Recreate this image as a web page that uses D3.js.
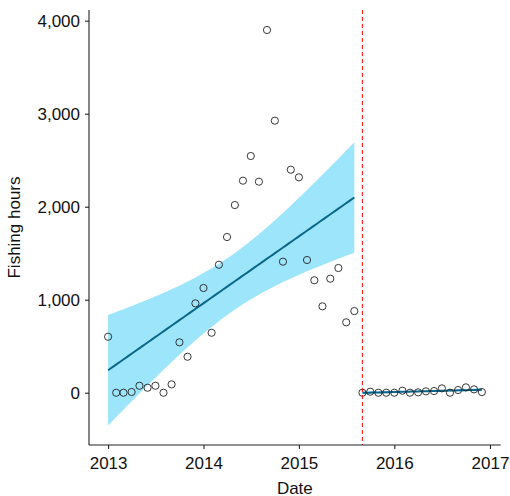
<!DOCTYPE html>
<html>
<head>
<meta charset="utf-8">
<script src="https://cdn.jsdelivr.net/npm/d3@7"></script>
<style>
  html, body { margin: 0; padding: 0; background: #fff; }
  svg { display: block; font-family: "Liberation Sans", Arial, Helvetica, sans-serif; }
</style>
</head>
<body>
<svg id="chart" width="510" height="496"></svg>
<script>
// ---- data ----
const preMonths = ["2013-01","2013-02","2013-03","2013-04","2013-05","2013-06","2013-07","2013-08",
  "2013-09","2013-10","2013-11","2013-12","2014-01","2014-02","2014-03","2014-04","2014-05","2014-06",
  "2014-07","2014-08","2014-09","2014-10","2014-11","2014-12","2015-01","2015-02","2015-03","2015-04",
  "2015-05","2015-06","2015-07","2015-08"];
const preValues = [602, 0, 0, 8, 75, 54, 75, 0, 90, 542, 387, 961, 1126, 645, 1376, 1674, 2018, 2280,
  2545, 2269, 3900, 2925, 1409, 2398, 2316, 1427, 1209, 929, 1226, 1341, 757, 878];
const postMonths = ["2015-09","2015-10","2015-11","2015-12","2016-01","2016-02","2016-03","2016-04",
  "2016-05","2016-06","2016-07","2016-08","2016-09","2016-10","2016-11","2016-12"];
const postValues = [0, 11, 0, 0, 0, 22, 0, 4, 15, 18, 47, 0, 29, 58, 36, 7];
const breakDate = "2015-09-01";
const xTickLabels = ["2013", "2014", "2015", "2016", "2017"];
const yTickValues = [0, 1000, 2000, 3000, 4000];

// ---- layout ----
const svg = d3.select("#chart");
const pL = 89, pR = 500.7, pT = 10, pB = 445;
const parseM = d3.timeParse("%Y-%m");
const parseD = d3.timeParse("%Y-%m-%d");

const x = d3.scaleTime()
  .domain([new Date(2012, 9, 20), new Date(2017, 1, 11)])
  .range([pL, pR]);
const y = d3.scaleLinear().domain([-562, 4115]).range([pB, pT]);

// linear fit with 95% confidence band (like lm smoother)
function fitBand(months, values, tval) {
  const xs = months.map(m => +parseM(m));
  const n = xs.length;
  const mx = d3.mean(xs), my = d3.mean(values);
  let sxx = 0, sxy = 0;
  xs.forEach((v, i) => { sxx += (v - mx) ** 2; sxy += (v - mx) * (values[i] - my); });
  const b = sxy / sxx, a = my - b * mx;
  let sse = 0;
  xs.forEach((v, i) => { sse += (values[i] - (a + b * v)) ** 2; });
  const s = Math.sqrt(sse / (n - 2));
  const x0 = d3.min(xs), x1 = d3.max(xs);
  return d3.range(80).map(k => {
    const xv = x0 + (x1 - x0) * k / 79;
    const fit = a + b * xv;
    const se = s * Math.sqrt(1 / n + (xv - mx) ** 2 / sxx);
    return { x: new Date(xv), fit, lo: fit - tval * se, hi: fit + tval * se };
  });
}

const bands = [fitBand(preMonths, preValues, 2.042), fitBand(postMonths, postValues, 2.145)];

const area = d3.area().x(d => x(d.x)).y0(d => y(d.lo)).y1(d => y(d.hi));
const line = d3.line().x(d => x(d.x)).y(d => y(d.fit));

bands.forEach(b => {
  svg.append("path").attr("d", area(b)).attr("fill", "#9de5fb");
});

const pts = preMonths.map((m, i) => ({ d: parseM(m), v: preValues[i] }))
  .concat(postMonths.map((m, i) => ({ d: parseM(m), v: postValues[i] })));

bands.forEach(b => {
  svg.append("path").attr("d", line(b)).attr("fill", "none")
    .attr("stroke", "#0a678a").attr("stroke-width", 2);
});

svg.append("g").selectAll("circle").data(pts).join("circle")
  .attr("cx", d => x(d.d)).attr("cy", d => y(d.v)).attr("r", 3.6)
  .attr("fill", "none").attr("stroke", "#222").attr("stroke-width", 0.9);

// break line
svg.append("line")
  .attr("x1", x(parseD(breakDate))).attr("x2", x(parseD(breakDate)))
  .attr("y1", pT).attr("y2", pB)
  .attr("stroke", "#ff1a1a").attr("stroke-width", 1.1).attr("stroke-dasharray", "4,3");

// axes
const xTicks = xTickLabels.map(t => parseD(t + "-01-01"));
const xAxis = d3.axisBottom(x).tickValues(xTicks).tickFormat(d3.timeFormat("%Y"))
  .tickSize(4).tickPadding(8).tickSizeOuter(0);
const gx = svg.append("g").attr("transform", `translate(0,${pB})`).call(xAxis);
const yAxis = d3.axisLeft(y).tickValues(yTickValues).tickFormat(d3.format(","))
  .tickSize(4).tickPadding(5).tickSizeOuter(0);
const gy = svg.append("g").attr("transform", `translate(${pL},0)`).call(yAxis);

gx.select(".domain").attr("d", `M${pL},0H${pR}`);
gy.select(".domain").attr("d", `M0,${pT}V${pB}`);
[gx, gy].forEach(g => {
  g.select(".domain").attr("stroke", "#222").attr("stroke-width", 1.1);
  g.selectAll(".tick line").attr("stroke", "#222").attr("stroke-width", 1.1);
  g.selectAll(".tick text").attr("fill", "#111").style("font-size", "17px")
    .style("font-family", '"Liberation Sans", Arial, Helvetica, sans-serif');
});

// titles
svg.append("text").attr("x", (pL + pR) / 2).attr("y", 493.5)
  .attr("text-anchor", "middle").attr("fill", "#111").style("font-size", "17px").text("Date");
svg.append("text").attr("transform", `translate(20,${(pT + pB) / 2}) rotate(-90)`)
  .attr("text-anchor", "middle").attr("fill", "#111").style("font-size", "17px").text("Fishing hours");
</script>
</body>
</html>
